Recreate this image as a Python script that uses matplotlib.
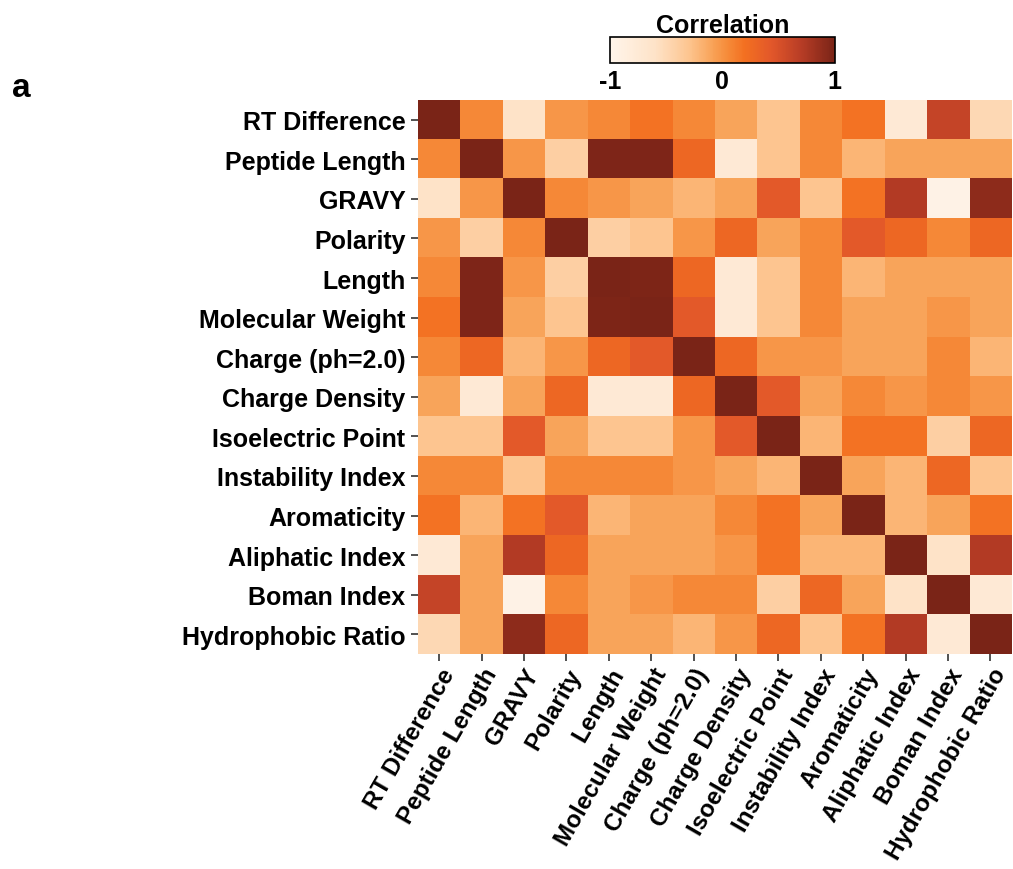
import numpy as np
import matplotlib
matplotlib.use("Agg")
import matplotlib.pyplot as plt
from matplotlib.colors import LinearSegmentedColormap

plt.rcParams['font.family'] = ['Liberation Sans', 'DejaVu Sans']
plt.rcParams['font.weight'] = 'bold'

# feature names (rows and columns)
features = ['RT Difference', 'Peptide Length', 'GRAVY', 'Polarity', 'Length',
            'Molecular Weight', 'Charge (ph=2.0)', 'Charge Density',
            'Isoelectric Point', 'Instability Index', 'Aromaticity',
            'Aliphatic Index', 'Boman Index', 'Hydrophobic Ratio']

# correlation values
corr = [
    [1.00, 0.06, -0.60, -0.02, 0.06, 0.18, 0.06, -0.10, -0.30, 0.06, 0.18, -0.75, 0.62, -0.50],
    [0.06, 1.00, -0.02, -0.40, 0.97, 0.97, 0.28, -0.75, -0.30, 0.06, -0.20, -0.10, -0.10, -0.10],
    [-0.60, -0.02, 1.00, 0.06, -0.02, -0.10, -0.20, -0.10, 0.42, -0.30, 0.18, 0.72, -0.95, 0.90],
    [-0.02, -0.40, 0.06, 1.00, -0.40, -0.30, -0.02, 0.28, -0.10, 0.06, 0.42, 0.28, 0.06, 0.28],
    [0.06, 0.97, -0.02, -0.40, 1.00, 0.98, 0.28, -0.75, -0.30, 0.06, -0.20, -0.10, -0.10, -0.10],
    [0.18, 0.97, -0.10, -0.30, 0.98, 1.00, 0.42, -0.75, -0.30, 0.06, -0.10, -0.10, -0.02, -0.10],
    [0.06, 0.28, -0.20, -0.02, 0.28, 0.42, 1.00, 0.28, -0.02, -0.02, -0.10, -0.10, 0.06, -0.20],
    [-0.10, -0.75, -0.10, 0.28, -0.75, -0.75, 0.28, 1.00, 0.42, -0.10, 0.06, -0.02, 0.06, -0.02],
    [-0.30, -0.30, 0.42, -0.10, -0.30, -0.30, -0.02, 0.42, 1.00, -0.20, 0.18, 0.18, -0.40, 0.28],
    [0.06, 0.06, -0.30, 0.06, 0.06, 0.06, -0.02, -0.10, -0.20, 1.00, -0.10, -0.20, 0.28, -0.30],
    [0.18, -0.20, 0.18, 0.42, -0.20, -0.10, -0.10, 0.06, 0.18, -0.10, 1.00, -0.20, -0.10, 0.18],
    [-0.75, -0.10, 0.72, 0.28, -0.10, -0.10, -0.10, -0.02, 0.18, -0.20, -0.20, 1.00, -0.60, 0.72],
    [0.62, -0.10, -0.95, 0.06, -0.10, -0.02, 0.06, 0.06, -0.40, 0.28, -0.10, -0.60, 1.00, -0.75],
    [-0.50, -0.10, 0.90, 0.28, -0.10, -0.10, -0.20, -0.02, 0.28, -0.30, 0.18, 0.72, -0.75, 1.00],
]

# white -> orange -> dark brown
cmap = LinearSegmentedColormap.from_list('corr', [
    (0.00, '#fff5eb'),
    (0.20, '#fee3c8'),
    (0.35, '#fdc590'),
    (0.45, '#f9a55b'),
    (0.52, '#f68c3a'),
    (0.60, '#f37021'),
    (0.72, '#e2572a'),
    (0.85, '#b83d26'),
    (1.00, '#7a2417'),
])

fig = plt.figure(figsize=(10.13, 8.70), dpi=100)
ax = fig.add_axes([0.4126, 0.247, 0.586, 0.637])
im = ax.imshow(np.array(corr), cmap=cmap, vmin=-1, vmax=1, aspect='auto',
               interpolation='nearest')

ax.set_xticks(range(len(features)))
ax.set_yticks(range(len(features)))
ax.set_xticklabels(features, rotation=60, ha='right', rotation_mode='anchor',
                   fontsize=17.5, fontweight='bold')
ax.set_yticklabels(features, fontsize=18, fontweight='bold')
ax.tick_params(length=5, width=1.2, color='#333333', pad=4)
ax.tick_params(axis='x', pad=2)
for s in ax.spines.values():
    s.set_visible(False)

# colorbar at top
cax = fig.add_axes([0.602, 0.926, 0.222, 0.030])
cb = fig.colorbar(im, cax=cax, orientation='horizontal', ticks=[-1, 0, 1])
cb.ax.tick_params(length=0, labelsize=18, pad=4)
cb.ax.set_xticklabels(['-1', '0', '1'], fontweight='bold')
cb.outline.set_linewidth(1.2)
cb.ax.set_title('Correlation', fontsize=18, fontweight='bold', pad=3)

fig.text(0.012, 0.888, 'a', fontsize=24, fontweight='bold')

fig.savefig('out.png', dpi=100)
